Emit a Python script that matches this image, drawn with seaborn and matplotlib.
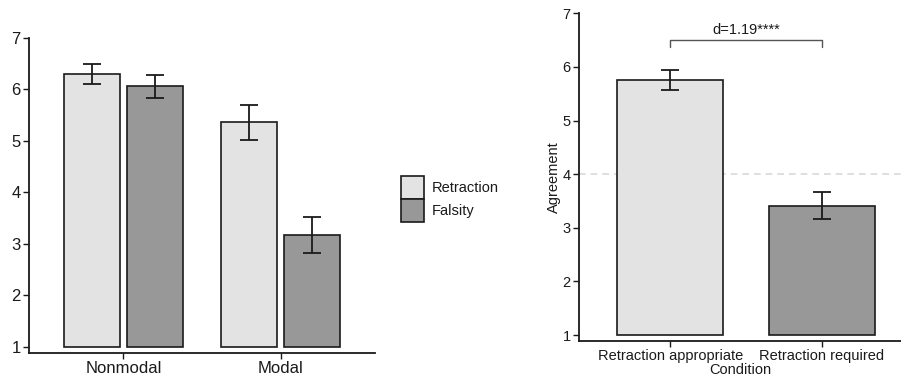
import numpy as np
import pandas as pd
import matplotlib
matplotlib.use("Agg")
import matplotlib.pyplot as plt
import seaborn as sns
from matplotlib.patches import Patch

# ---- data (left panel) ----
framing = ["Nonmodal", "Modal"]
groups = ["Retraction", "Falsity"]
retraction_mean = [6.30, 5.36]
retraction_lo = [6.11, 5.02]
retraction_hi = [6.50, 5.70]
falsity_mean = [6.06, 3.18]
falsity_lo = [5.83, 2.82]
falsity_hi = [6.29, 3.53]

# ---- data (right panel) ----
conditions = ["Retraction appropriate", "Retraction required"]
agree_mean = [5.76, 3.41]
agree_lo = [5.57, 3.16]
agree_hi = [5.94, 3.66]
midpoint = 4
effect_label = "d=1.19****"
baseline = 1
y_ticks = [1, 2, 3, 4, 5, 6, 7]

LIGHT = "#e3e3e3"
DARK = "#989898"
EDGE = "#1a1a1a"

sns.set_theme(style="white")
plt.rcParams["font.family"] = ["Liberation Sans", "DejaVu Sans"]

fig = plt.figure(figsize=(9.01, 3.78), dpi=100)
ax1 = fig.add_axes([29 / 901, 1 - 353 / 378, (375 - 29) / 901, (353 - 38) / 378])
ax2 = fig.add_axes([579 / 901, 1 - 340.7 / 378, (901 - 579) / 901, (340.7 - 13.3) / 378])

# ---- left panel ----
df1 = pd.DataFrame({
    "framing": framing * 2,
    "group": [groups[0]] * 2 + [groups[1]] * 2,
    "height": [v - baseline for v in retraction_mean + falsity_mean],
})
sns.barplot(data=df1, x="framing", y="height", hue="group", order=framing,
            hue_order=groups, palette=[LIGHT, DARK], width=0.8, gap=0.1,
            bottom=baseline, edgecolor=EDGE, linewidth=1.2, errorbar=None,
            legend=False, ax=ax1)
for cont, m, lo, hi in zip(ax1.containers,
                           [retraction_mean, falsity_mean],
                           [retraction_lo, falsity_lo],
                           [retraction_hi, falsity_hi]):
    xs = [p.get_x() + p.get_width() / 2 for p in cont.patches]
    m = np.array(m); lo = np.array(lo); hi = np.array(hi)
    ax1.errorbar(xs, m, yerr=[m - lo, hi - m], fmt="none", ecolor=EDGE,
                 elinewidth=1.3, capsize=6.5, capthick=1.3, zorder=5)
ax1.set_xlim(-0.6, 1.6)
ax1.set_ylim(0.883, 7)
ax1.set_yticks(y_ticks)
ax1.set_xlabel("")
ax1.set_ylabel("")
ax1.tick_params(axis="both", labelsize=12, length=4, width=1, color=EDGE,
                labelcolor="#1a1a1a", direction="out", pad=2, left=True,
                bottom=True)

# ---- right panel ----
df2 = pd.DataFrame({"Condition": conditions,
                    "height": [v - baseline for v in agree_mean]})
ax2.axhline(midpoint, color="#d9d9d9", ls=(0, (4, 3)), lw=1.2, zorder=0)
sns.barplot(data=df2, x="Condition", y="height", hue="Condition",
            order=conditions, hue_order=conditions, palette=[LIGHT, DARK],
            width=0.7, bottom=baseline, edgecolor=EDGE, linewidth=1.2,
            errorbar=None, legend=False, ax=ax2)
xs2 = []
for cont in ax2.containers:
    for p in cont.patches:
        if p.get_height() > 0:
            xs2.append(p.get_x() + p.get_width() / 2)
xs2 = sorted(xs2)
m = np.array(agree_mean); lo = np.array(agree_lo); hi = np.array(agree_hi)
ax2.errorbar(xs2, m, yerr=[m - lo, hi - m], fmt="none", ecolor=EDGE,
             elinewidth=1.3, capsize=6.5, capthick=1.3, zorder=5)
# significance bracket
ax2.plot([xs2[0], xs2[0], xs2[1], xs2[1]], [6.38, 6.50, 6.50, 6.38],
         color="#555555", lw=1.0, clip_on=False)
ax2.text((xs2[0] + xs2[1]) / 2, 6.55, effect_label, ha="center", va="bottom",
         fontsize=10.5, color="#1a1a1a")
ax2.set_xlim(-0.6, 1.52)
ax2.set_ylim(0.894, 7)
ax2.set_yticks(y_ticks)
ax2.set_xlabel("Condition", fontsize=10.5, labelpad=0, color="#1a1a1a")
ax2.set_ylabel("Agreement", fontsize=10.5, labelpad=1, color="#1a1a1a")
ax2.tick_params(axis="both", labelsize=10.5, length=4, width=1, color=EDGE,
                labelcolor="#1a1a1a", direction="out", pad=2, left=True,
                bottom=True)

for ax in (ax1, ax2):
    sns.despine(ax=ax)
    for s in ("left", "bottom"):
        ax.spines[s].set_color(EDGE)
        ax.spines[s].set_linewidth(1.3)

# ---- legend ----
handles = [Patch(facecolor=LIGHT, edgecolor=EDGE, linewidth=1.2),
           Patch(facecolor=DARK, edgecolor=EDGE, linewidth=1.2)]
fig.legend(handles, groups, loc="upper left",
           bbox_to_anchor=(401 / 901, 1 - 176 / 378), frameon=False,
           fontsize=10.5, handlelength=1.6, handleheight=2.05,
           handletextpad=0.5, labelspacing=0.0, borderpad=0,
           borderaxespad=0, labelcolor="#1a1a1a")

fig.savefig("out.png", dpi=100)
